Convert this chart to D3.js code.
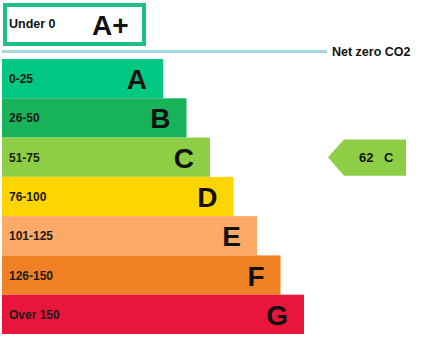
<!DOCTYPE html>
<html>
<head>
<meta charset="utf-8">
<script src="https://cdn.jsdelivr.net/npm/d3@7"></script>
<style>
  body { margin: 0; background: #fff; }
  text { font-family: Arial, "Liberation Sans", sans-serif; }
</style>
</head>
<body>
<div id="chart"></div>
<script>
// Rating bands, their score ranges and the upper bound used for bar length
const bands = ['A', 'B', 'C', 'D', 'E', 'F', 'G'];
const ranges = ['0-25', '26-50', '51-75', '76-100', '101-125', '126-150', 'Over 150'];
const bandMax = [25, 50, 75, 100, 125, 150, 175];
const colors = ['#00c781', '#19b459', '#8dce46', '#ffd500', '#fcaa65', '#ef8023', '#e9153b'];

// Top "A+" band and net zero marker
const topBand = 'A+';
const topRange = 'Under 0';
const netZeroLabel = 'Net zero CO2';

// Current rating
const currentScore = 62;
const currentBand = 'C';

const width = 426, height = 345;

const svg = d3.select('#chart').append('svg')
    .attr('width', width)
    .attr('height', height);

const x = d3.scaleLinear()
    .domain([0, 175])
    .range([139.5, 304]);

const y = d3.scaleBand()
    .domain(bands)
    .range([59, 334])
    .padding(0);

const rows = bands.map((b, i) => ({ band: b, range: ranges[i], max: bandMax[i], color: colors[i] }));

// A+ box
svg.append('rect')
    .attr('x', 5)
    .attr('y', 5)
    .attr('width', 139)
    .attr('height', 39)
    .attr('fill', '#fff')
    .attr('stroke', '#1dbf86')
    .attr('stroke-width', 4);

svg.append('text')
    .attr('x', 9)
    .attr('y', 28)
    .style('font-size', '12.5px')
    .style('font-weight', 'bold')
    .attr('fill', '#111')
    .text(topRange);

svg.append('text')
    .attr('x', 92)
    .attr('y', 35)
    .style('font-size', '28px')
    .style('font-weight', 'bold')
    .attr('fill', '#111')
    .text(topBand);

// Net zero line
svg.append('line')
    .attr('x1', 2)
    .attr('x2', 327)
    .attr('y1', 51.5)
    .attr('y2', 51.5)
    .attr('stroke', '#a8d6e0')
    .attr('stroke-width', 3);

svg.append('text')
    .attr('x', 332)
    .attr('y', 56)
    .style('font-size', '12.5px')
    .style('font-weight', 'bold')
    .attr('fill', '#111')
    .text(netZeroLabel);

// Bars
const bars = svg.selectAll('.band')
    .data(rows)
    .enter()
    .append('g')
    .attr('class', 'band');

bars.append('rect')
    .attr('x', 2)
    .attr('y', d => y(d.band))
    .attr('width', d => x(d.max) - 2)
    .attr('height', y.bandwidth())
    .attr('fill', d => d.color);

bars.append('text')
    .attr('x', 9)
    .attr('y', d => y(d.band) + y.bandwidth() / 2 + 4.5)
    .style('font-size', '12px')
    .style('font-weight', 'bold')
    .attr('fill', '#1a1a1a')
    .text(d => d.range);

bars.append('text')
    .attr('x', d => x(d.max) - 16)
    .attr('y', d => y(d.band) + y.bandwidth() / 2 + 10.5)
    .attr('text-anchor', 'end')
    .style('font-size', '28px')
    .style('font-weight', 'bold')
    .attr('fill', '#111')
    .text(d => d.band);

// Current rating arrow
const cy = y(currentBand) + y.bandwidth() / 2;
const arrowTop = y(currentBand) + 2;
const arrowBottom = y(currentBand) + y.bandwidth() - 1;
const cur = rows.find(r => r.band === currentBand);

svg.append('path')
    .attr('d', d3.line()([
        [328, cy],
        [344, arrowTop],
        [406, arrowTop],
        [406, arrowBottom],
        [344, arrowBottom]
    ]) + 'Z')
    .attr('fill', cur.color);

svg.append('text')
    .attr('x', 359)
    .attr('y', cy + 5)
    .style('font-size', '13px')
    .style('font-weight', 'bold')
    .attr('fill', '#111')
    .text(currentScore);

svg.append('text')
    .attr('x', 384)
    .attr('y', cy + 5)
    .style('font-size', '13px')
    .style('font-weight', 'bold')
    .attr('fill', '#111')
    .text(currentBand);
</script>
</body>
</html>
